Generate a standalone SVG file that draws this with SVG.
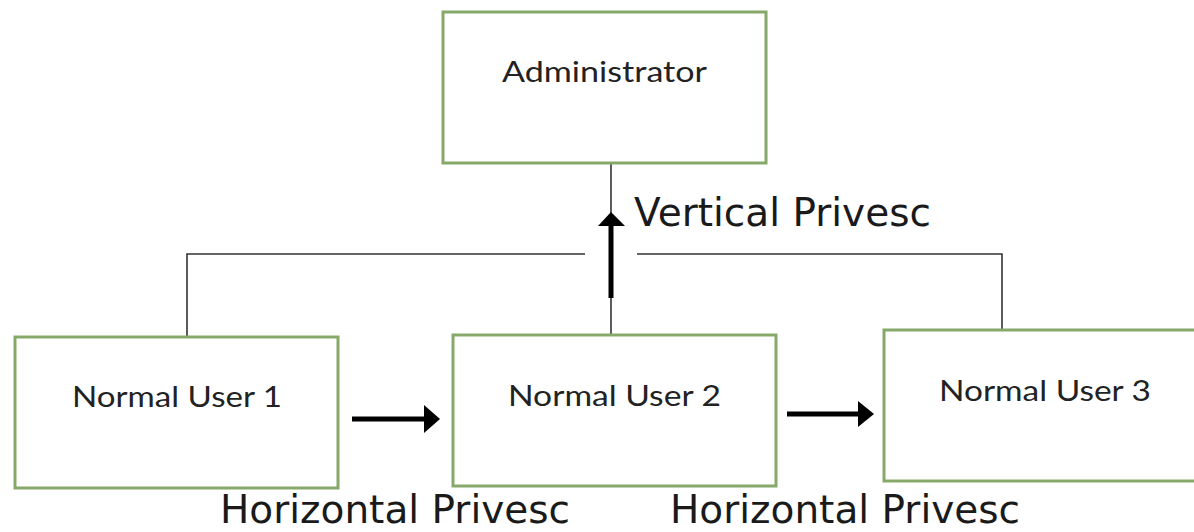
<svg xmlns="http://www.w3.org/2000/svg" width="1194" height="532" viewBox="0 0 1194 532">
  <style>
    .box { fill: #ffffff; stroke: #86a96a; stroke-width: 3; }
    .lbl { font-family: Lato, "Open Sans", "Liberation Sans", sans-serif; font-size: 29px; fill: #222222; }
    .cap { font-family: "DejaVu Sans", sans-serif; font-size: 39px; fill: #1a1a1a; }
    .thin { stroke: #333333; stroke-width: 1.6; fill: none; }
    .thick { stroke: #000000; stroke-width: 5; fill: none; }
    .head { fill: #000000; }
  </style>
  <rect width="1194" height="532" fill="#ffffff"/>

  <g id="connectors">
    <!-- escalation from Normal User 2 up to Administrator -->
    <line class="thin" x1="611" y1="163" x2="611" y2="214"/>
    <line class="thick" x1="611" y1="224" x2="611" y2="298"/>
    <polygon class="head" points="598,226 611,212 625,226"/>
    <line class="thin" x1="611" y1="298" x2="611" y2="335"/>
    <!-- shared bus joining all normal users -->
    <polyline class="thin" points="187,337 187,254 585,254"/>
    <polyline class="thin" points="637,254 1002,254 1002,330"/>
    <!-- horizontal moves between users -->
    <line class="thick" x1="352" y1="419" x2="426" y2="419"/>
    <polygon class="head" points="424,405 440,419 424,433"/>
    <line class="thick" x1="787" y1="414" x2="860" y2="414"/>
    <polygon class="head" points="858,401 874,414 858,427"/>
  </g>

  <g id="admin">
    <rect class="box" x="443" y="12" width="323" height="151"/>
    <text class="lbl" x="502" y="82" textLength="205" lengthAdjust="spacingAndGlyphs">Administrator</text>
  </g>

  <g id="user1">
    <rect class="box" x="15" y="337" width="323" height="151"/>
    <text class="lbl" x="72" y="407" textLength="210" lengthAdjust="spacingAndGlyphs">Normal User 1</text>
  </g>

  <g id="user2">
    <rect class="box" x="453" y="335" width="323" height="151"/>
    <text class="lbl" x="508" y="406" textLength="213" lengthAdjust="spacingAndGlyphs">Normal User 2</text>
  </g>

  <g id="user3">
    <rect class="box" x="884" y="330" width="330" height="151"/>
    <text class="lbl" x="939" y="401" textLength="212" lengthAdjust="spacingAndGlyphs">Normal User 3</text>
  </g>

  <g id="captions">
    <text class="cap" x="634" y="226">Vertical Privesc</text>
    <text class="cap" x="220" y="523">Horizontal Privesc</text>
    <text class="cap" x="670" y="523">Horizontal Privesc</text>
  </g>
</svg>
